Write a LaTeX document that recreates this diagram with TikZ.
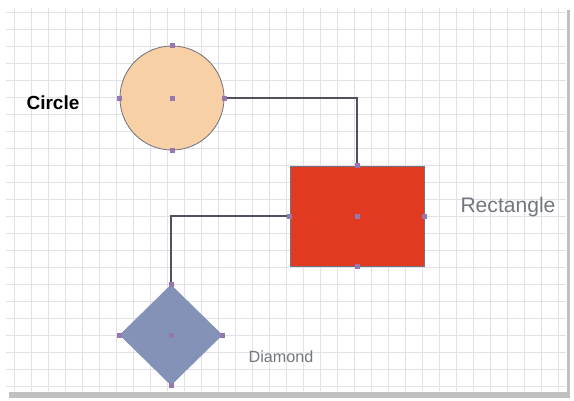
\documentclass[tikz,border=0pt]{standalone}
\usepackage{fontspec}
\setmainfont{Liberation Sans}
\definecolor{gridgray}{RGB}{224,226,231}
\definecolor{framegray}{RGB}{150,150,150}
\definecolor{wiregray}{RGB}{80,80,95}
\definecolor{peach}{RGB}{248,208,166}
\definecolor{boxred}{RGB}{226,58,32}
\definecolor{slate}{RGB}{132,146,184}
\definecolor{handlepurple}{RGB}{150,120,175}
\definecolor{labelgray}{RGB}{115,120,128}
\usetikzlibrary{shapes.geometric}

\begin{document}
\begin{tikzpicture}[x=0.025cm, y=-0.025cm,
  shapebox/.style={draw=wiregray!80, line width=0.6pt, inner sep=0pt},
  wire/.style={draw=wiregray, line width=1pt},
  handle/.style={fill=handlepurple}]

\useasboundingbox (0,0) rectangle (574,401);

% page with shadow
\fill[framegray!60] (9,10) rectangle (570,398);
\fill[white] (5,6) rectangle (567,392);

% grid
\foreach \gx in {14,31,...,566}
  \draw[gridgray, line width=0.4pt] (\gx,8) -- (\gx,391);
\foreach \gy in {12,29,...,391}
  \draw[gridgray, line width=0.4pt] (6,\gy) -- (566,\gy);

% shapes
\node[shapebox, circle, fill=peach, minimum size=2.6cm] (circ) at (172,98) {};
\node[shapebox, rectangle, fill=boxred, minimum width=3.35cm, minimum height=2.5cm] (rect) at (357,216) {};
\node[shapebox, diamond, fill=slate, draw=slate, minimum width=2.55cm, minimum height=2.5cm] (diam) at (171,335) {};

% connectors
\draw[wire] (circ.east) -| (rect.north);
\draw[wire] (rect.west) -| (diam.north);

% connection handles
\foreach \s in {circ,rect,diam}
  \foreach \a in {north,south,east,west,center}
    \fill[handle] ([shift={(-2.5,-2.5)}]\s.\a) rectangle ++(5,5);

% labels
\node[font=\fontsize{13.5}{16}\selectfont\bfseries] (lcirc) at (53,103) {Circle};
\node[font=\fontsize{15}{18}\selectfont, text=labelgray] (lrect) at (508,207) {Rectangle};
\node[font=\fontsize{11.5}{14}\selectfont, text=labelgray] (ldiam) at (281,357) {Diamond};

\end{tikzpicture}
\end{document}
